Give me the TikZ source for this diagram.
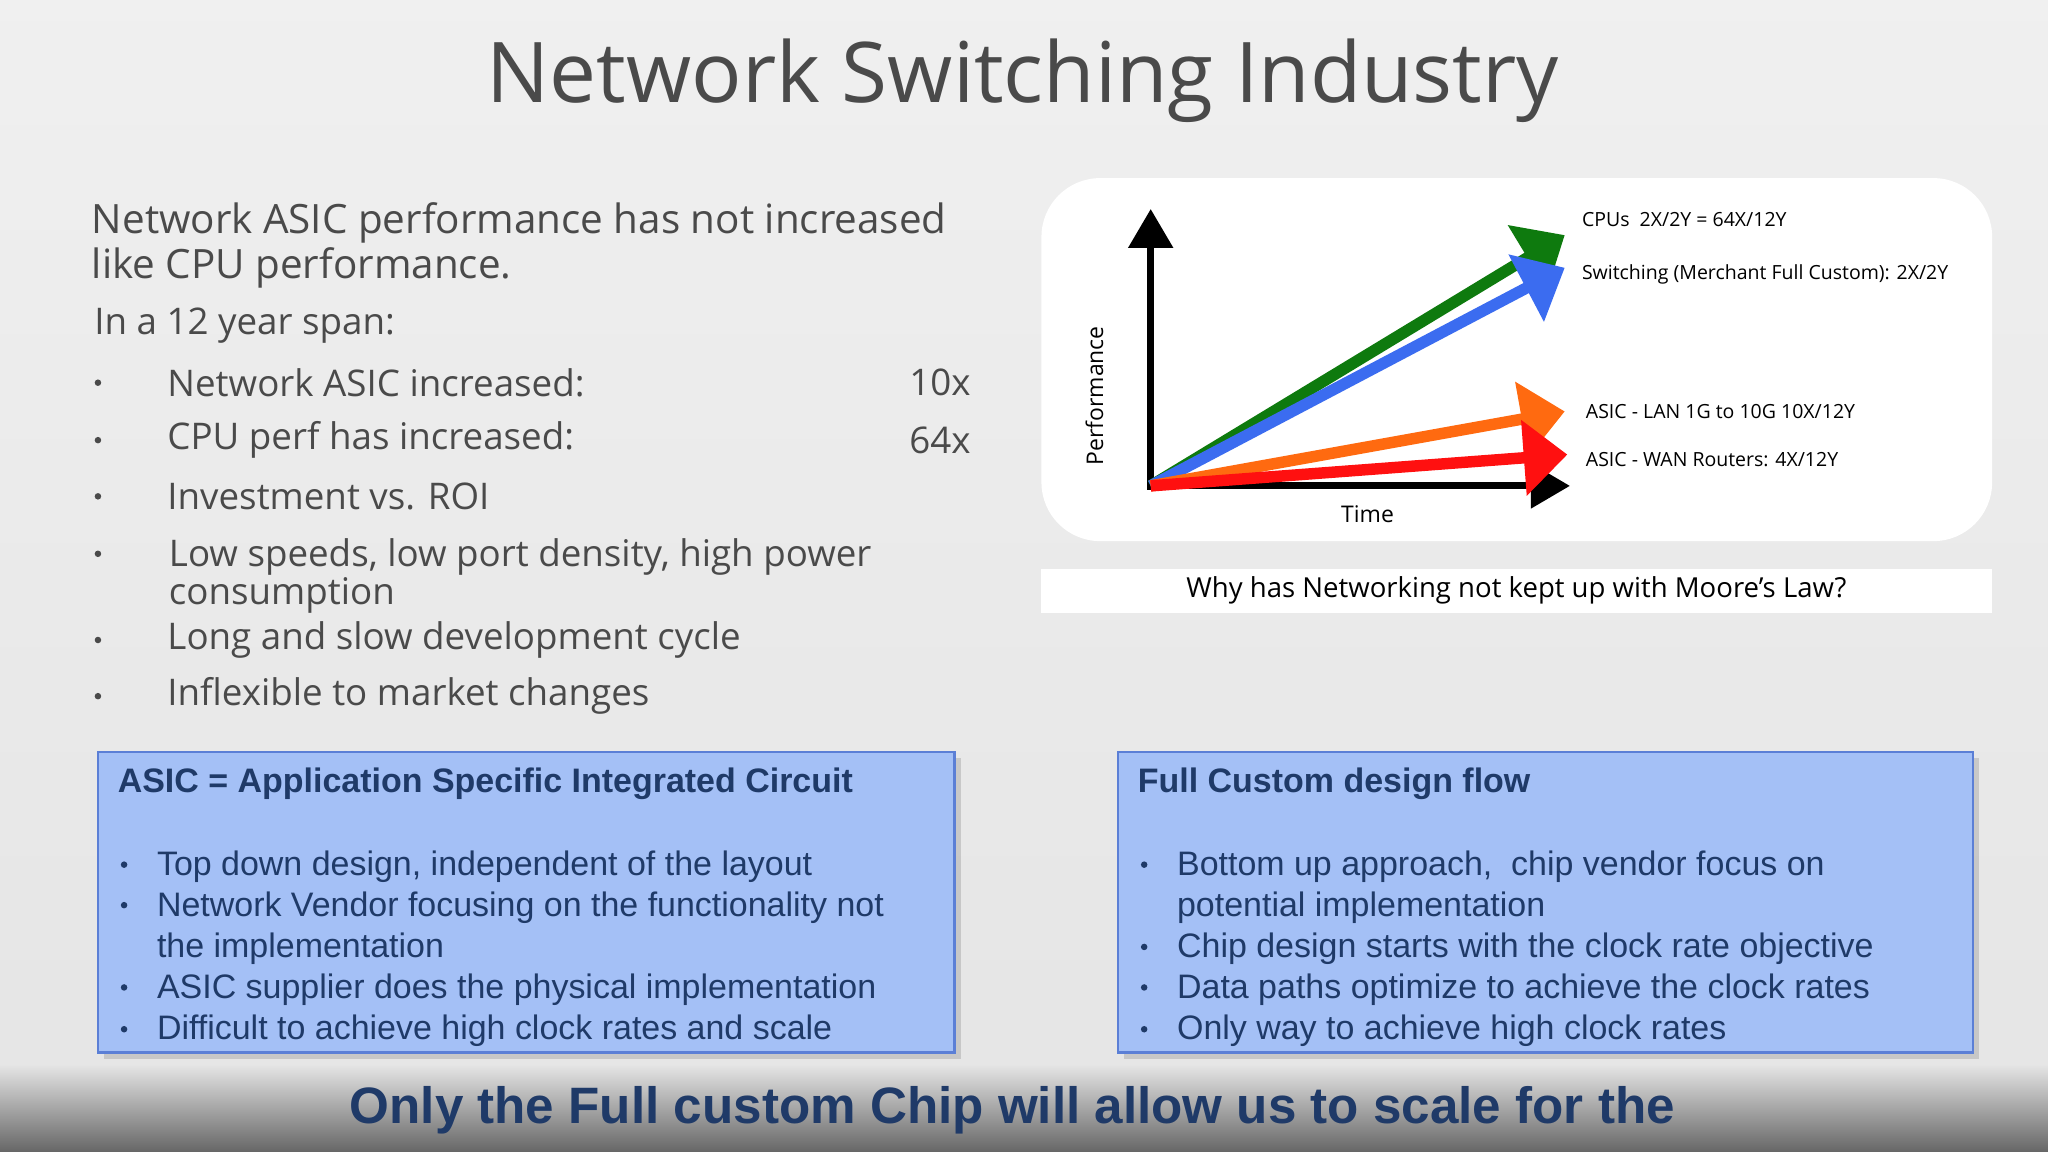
\documentclass[tikz,border=0pt]{standalone}
\usepackage{fontspec}
\setmainfont{Open Sans}
\newfontfamily\arialf{Liberation Sans}
\usetikzlibrary{arrows.meta,shadows}
\definecolor{txt}{HTML}{4A4A4A}
\definecolor{boxfill}{HTML}{A4C0F6}
\definecolor{boxline}{HTML}{5B7FD6}
\definecolor{navy}{HTML}{1F3A68}
\definecolor{cgreen}{HTML}{0E7A0E}
\definecolor{cblue}{HTML}{3B6CF0}
\definecolor{corange}{HTML}{FF6A10}
\definecolor{cred}{HTML}{FF1010}
\begin{document}
\begin{tikzpicture}[x=0.02cm,y=-0.02cm,
  bul/.style={anchor=west,text=txt,font=\fontsize{16}{19}\selectfont},
  dotg/.style={circle,fill=txt,inner sep=0,minimum size=0.1cm},
  dotb/.style={circle,fill=navy,inner sep=0,minimum size=0.1cm},
  boxt/.style={anchor=north west,text=navy,align=left,font=\arialf\fontsize{14.8}{17.9}\selectfont},
  carr/.style={line width=5pt,-{Triangle[length=19pt,width=32pt]}},
  clab/.style={anchor=west,font=\fontsize{8.5}{10}\selectfont,text=black}]
\useasboundingbox (0,0) rectangle (1568,882);
\shade[top color=white!88!gray,bottom color=white!80!gray] (0,0) rectangle (1568,815);
\shade[top color=white!80!gray,bottom color=black!60] (0,815) rectangle (1568,882);
\node[text=txt,font=\fontsize{36.5}{42}\selectfont] (title) at (783,62) {Network Switching Industry};
\node[anchor=north west,text=txt,align=left,inner sep=0,font=\fontsize{17.6}{19.3}\selectfont] (head) at (70,155) {Network ASIC performance has not increased\\like CPU performance.};
\node[bul] (span) at (66,249) {In a 12 year span:};
\foreach \y/\t [count=\i] in {293/Network ASIC increased:,337/CPU perf has increased:,380/Investment vs. ROI,490/Long and slow development cycle,533/Inflexible to market changes}{
  \node[dotg] (dot\i) at (75,\y) {};
  \node[bul] (b\i) at (122,\y) {\t};}
\node[dotg] (dot6) at (75,424) {};
\node[bul,anchor=north west,align=left,inner sep=0,font=\fontsize{16}{13}\selectfont] (b6) at (129,412) {Low speeds, low port density, high power\\consumption};
\node[bul] (v1) at (690,293) {10x};
\node[bul] (v2) at (690,337) {64x};
% chart
\node[fill=white,rounded corners=0.9cm,minimum width=14.56cm,minimum height=5.56cm,anchor=north west,inner sep=0] (chart) at (797,136) {};
\coordinate (o) at (881,372);
\coordinate (ytop) at (881,160);
\coordinate (xend) at (1202,372);
\draw[line width=3pt,-{Triangle[length=17pt,width=19pt]}] (881,375) -- (ytop);
\draw[line width=3pt,-{Triangle[length=17pt,width=19pt]}] (879,372) -- (xend);
\coordinate (cg) at (1198,180);
\coordinate (cb) at (1198,205);
\coordinate (co) at (1198,315);
\coordinate (cr) at (1200,348);
\draw[carr,cgreen] (o) -- (cg);
\draw[carr,cblue] (o) -- (cb);
\draw[carr,corange] (o) -- (co);
\draw[carr,cred] (o) -- (cr);
\node[rotate=90,font=\fontsize{10}{12}\selectfont] (perf) at (838,303) {Performance};
\node[font=\fontsize{10}{12}\selectfont] (time) at (1047,394) {Time};
\node[clab] (l1) at (1205,168) {CPUs\ \ 2X/2Y = 64X/12Y};
\node[clab] (l2) at (1205,210) {Switching (Merchant Full Custom): 2X/2Y};
\node[clab] (l3) at (1208,315) {ASIC - LAN 1G to 10G 10X/12Y};
\node[clab] (l4) at (1208,352) {ASIC - WAN Routers: 4X/12Y};
\node[fill=white,minimum width=14.56cm,minimum height=0.68cm,anchor=north west,inner sep=0] (capbox) at (797,435) {};
\node[font=\fontsize{12}{14}\selectfont] (cap) at (1161,452) {Why has Networking not kept up with Moore’s Law?};
% boxes
\node[draw=boxline,line width=1pt,fill=boxfill,drop shadow={opacity=0.3},minimum width=13.12cm,minimum height=4.6cm,anchor=north west,inner sep=0] (boxL) at (74,575) {};
\node[draw=boxline,line width=1pt,fill=boxfill,drop shadow={opacity=0.3},minimum width=13.1cm,minimum height=4.6cm,anchor=north west,inner sep=0] (boxR) at (855,575) {};
\node[boxt,font=\arialf\bfseries\fontsize{14.8}{18}\selectfont] (tL) at (84,582) {ASIC = Application Specific Integrated Circuit};
\node[boxt,font=\arialf\bfseries\fontsize{14.8}{18}\selectfont] (tR) at (865,582) {Full Custom design flow};
\foreach \y [count=\i] in {662,693,756,788} \node[dotb] (dl\i) at (95,\y) {};
\foreach \y [count=\i] in {662,725,756,788} \node[dotb] (dr\i) at (876,\y) {};
\node[boxt] (xL) at (114,645) {Top down design, independent of the layout\\Network Vendor focusing on the functionality not\\the implementation\\ASIC supplier does the physical implementation\\Difficult to achieve high clock rates and scale};
\node[boxt] (xR) at (895,645) {Bottom up approach,\ \ chip vendor focus on\\potential implementation\\Chip design starts with the clock rate objective\\Data paths optimize to achieve the clock rates\\Only way to achieve high clock rates};
\node[text=navy,font=\arialf\bfseries\fontsize{22.3}{26}\selectfont] (bottom) at (775,850) {Only the Full custom Chip will allow us to scale for the};
\end{tikzpicture}
\end{document}
